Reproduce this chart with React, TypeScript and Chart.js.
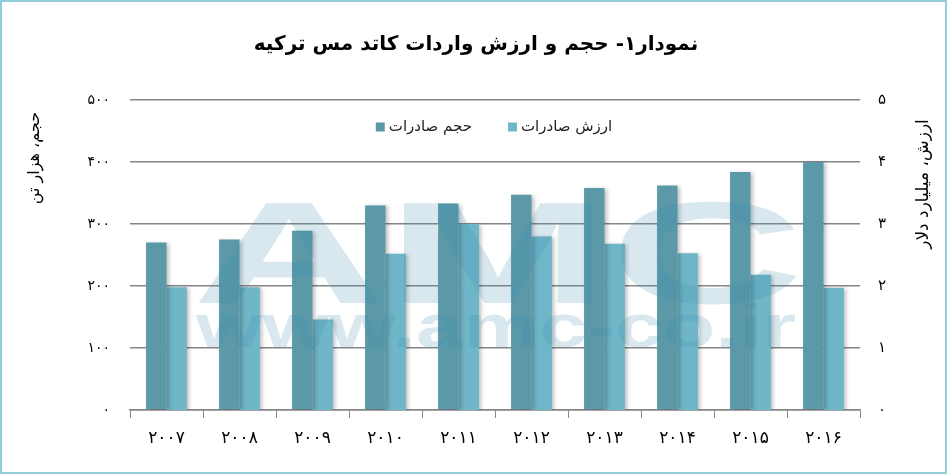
import React, { useEffect, useRef } from "react";
import { Chart, registerables } from "chart.js";

Chart.register(...registerables);

// years (Persian digits), volume in thousand tonnes, value in billion dollars
const years = ["۲۰۰۷", "۲۰۰۸", "۲۰۰۹", "۲۰۱۰", "۲۰۱۱", "۲۰۱۲", "۲۰۱۳", "۲۰۱۴", "۲۰۱۵", "۲۰۱۶"];
const volume = [270, 275, 289, 330, 333, 347, 358, 362, 384, 400];
const exportValue = [1.98, 1.98, 1.46, 2.52, 3.0, 2.8, 2.68, 2.53, 2.18, 1.97];

const titleText = "نمودار۱- حجم و ارزش واردات کاتد مس ترکیه";
const leftTitle = "حجم، هزار تن";
const rightTitle = "ارزش، میلیارد دلار";
const seriesNames = ["حجم صادرات", "ارزش صادرات"];
const seriesColors = ["#5b99a9", "#70b6c9"];

const FA = "۰۱۲۳۴۵۶۷۸۹";
const toFa = (v: number | string) => String(v).replace(/\d/g, (d) => FA[Number(d)]);

const FONT = "'DejaVu Sans', sans-serif";
const GRID = "#868686";

// title, rotated axis titles, legend, watermark and bar shadows
const decorations = {
	id: "decorations",
	beforeDatasetsDraw(chart: Chart) {
		const ctx = chart.ctx;
		ctx.save();
		ctx.shadowColor = "rgba(0,0,0,0.25)";
		ctx.shadowBlur = 4;
		ctx.shadowOffsetX = 2;
		ctx.shadowOffsetY = 1;
	},
	afterDatasetsDraw(chart: Chart) {
		const ctx = chart.ctx;
		ctx.restore();

		// watermark
		ctx.save();
		ctx.fillStyle = "rgba(60,140,170,0.2)";
		ctx.textAlign = "left";
		ctx.textBaseline = "alphabetic";
		ctx.font = `bold 145px 'Liberation Sans', sans-serif`;
		let w = ctx.measureText("AMC").width;
		ctx.save();
		ctx.translate(192, 303);
		ctx.scale(612 / w, 1);
		ctx.fillText("AMC", 0, 0);
		ctx.restore();
		ctx.font = `bold 62px 'Liberation Sans', sans-serif`;
		w = ctx.measureText("www.amc-co.ir").width;
		ctx.save();
		ctx.translate(196, 347);
		ctx.scale(600 / w, 1);
		ctx.fillText("www.amc-co.ir", 0, 0);
		ctx.restore();
		ctx.restore();
	},
	afterDraw(chart: Chart) {
		const ctx = chart.ctx;
		ctx.save();
		ctx.fillStyle = "#000";
		ctx.direction = "rtl";
		ctx.textAlign = "center";
		ctx.textBaseline = "middle";
		ctx.font = `bold 20px ${FONT}`;
		ctx.fillText(titleText, 476, 45);

		ctx.font = `16px ${FONT}`;
		ctx.save();
		ctx.translate(35, 158);
		ctx.rotate(-Math.PI / 2);
		ctx.fillText(leftTitle, 0, 0);
		ctx.restore();
		ctx.font = `17px ${FONT}`;
		ctx.save();
		ctx.translate(924, 184);
		ctx.rotate(-Math.PI / 2);
		ctx.fillText(rightTitle, 0, 0);
		ctx.restore();

		// legend: box then label, items left to right
		ctx.direction = "ltr";
		ctx.textAlign = "left";
		ctx.font = `15px ${FONT}`;
		const box = 9;
		const gap = 4;
		const spacing = 36;
		const sets = chart.data.datasets;
		const widths = sets.map((d) => ctx.measureText(String(d.label)).width);
		const total = widths.reduce((a, b) => a + b + box + gap, 0) + spacing * (sets.length - 1);
		let x = 494 - total / 2;
		const y = 127;
		sets.forEach((d, i) => {
			ctx.fillStyle = String(d.backgroundColor);
			ctx.fillRect(x, y - box / 2, box, box);
			ctx.fillStyle = "#222";
			ctx.fillText(String(d.label), x + box + gap, y);
			x += box + gap + widths[i] + spacing;
		});
		ctx.restore();
	},
};

const ComboChart: React.FC = () => {
	const chartRef = useRef<HTMLCanvasElement>(null);
	const chartInstanceRef = useRef<Chart>();

	useEffect(() => {
		if (!chartRef.current) return;
		if (chartInstanceRef.current) chartInstanceRef.current.destroy();

		chartInstanceRef.current = new Chart(chartRef.current, {
			type: "bar",
			data: {
				labels: years,
				datasets: [
					{
						label: seriesNames[0],
						data: volume,
						backgroundColor: seriesColors[0],
						borderWidth: 0,
						yAxisID: "y",
						categoryPercentage: 0.56,
						barPercentage: 1,
					},
					{
						label: seriesNames[1],
						data: exportValue,
						backgroundColor: seriesColors[1],
						borderWidth: 0,
						yAxisID: "y1",
						categoryPercentage: 0.56,
						barPercentage: 1,
					},
				],
			},
			options: {
				responsive: false,
				animation: false,
				layout: { padding: { top: 100, left: 0, right: 0, bottom: 0 } },
				plugins: {
					title: { display: false },
					tooltip: { enabled: false },
					legend: { display: false },
				},
				scales: {
					x: {
						grid: { offset: true, drawOnChartArea: false, tickLength: 8, color: GRID },
						border: { color: GRID, width: 1.5 },
						ticks: { color: "#000", padding: 10, font: { family: FONT, size: 17 } },
						afterFit: (s: any) => {
							s.height = 64;
						},
					},
					y: {
						position: "left",
						min: 0,
						max: 500,
						grid: { color: GRID, lineWidth: 1.5, drawTicks: false },
						border: { display: false },
						ticks: {
							stepSize: 100,
							padding: 20,
							color: "#000",
							font: { family: FONT, size: 14 },
							callback: (v: any) => toFa(v),
						},
						afterFit: (s: any) => {
							s.width = 130;
						},
					},
					y1: {
						position: "right",
						min: 0,
						max: 5,
						grid: { display: false, drawTicks: false },
						border: { display: false },
						ticks: {
							stepSize: 1,
							padding: 18,
							color: "#000",
							font: { family: FONT, size: 15 },
							callback: (v: any) => toFa(v),
						},
						afterFit: (s: any) => {
							s.width = 87;
						},
					},
				},
			},
			plugins: [decorations],
		});

		return () => {
			if (chartInstanceRef.current) chartInstanceRef.current.destroy();
		};
	}, []);

	return (
		<div style={{ position: "absolute", left: 0, top: 0, width: 947, height: 474, background: "#fff" }}>
			<canvas ref={chartRef} width={947} height={474} style={{ display: "block" }} />
			<div
				style={{
					position: "absolute",
					inset: 0,
					border: "2px solid #93cddd",
					boxSizing: "border-box",
					pointerEvents: "none",
				}}
			/>
		</div>
	);
};

export default function App() {
	return <ComboChart />;
}
